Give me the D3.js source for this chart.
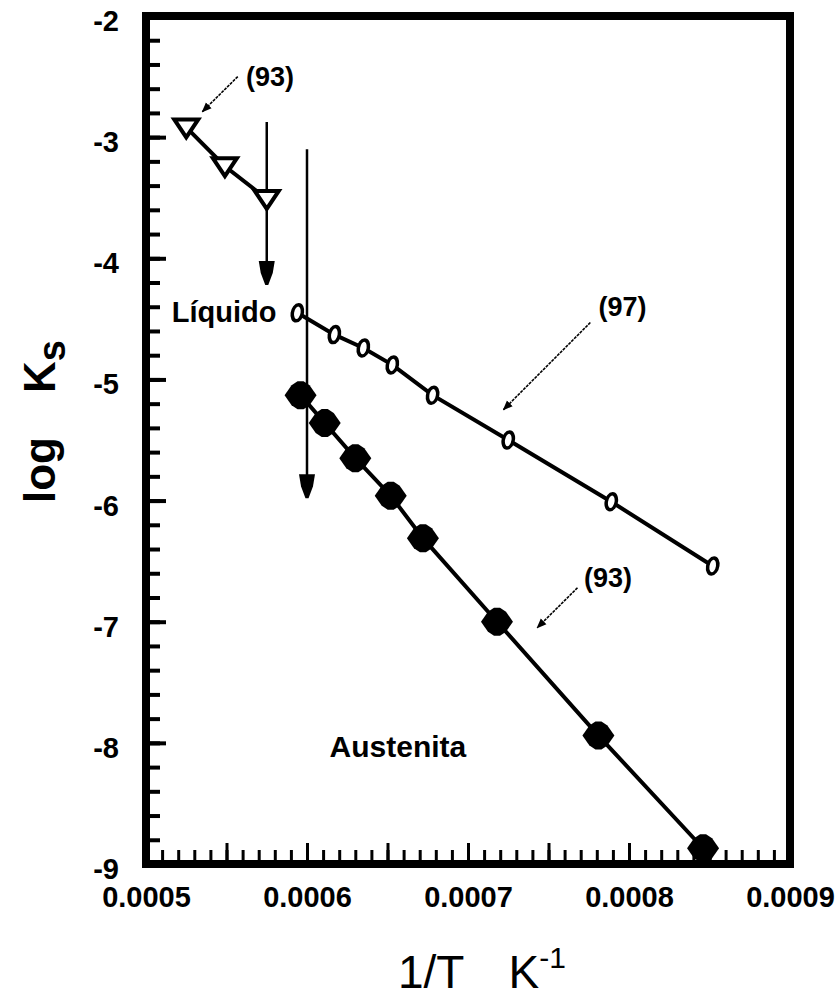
<!DOCTYPE html>
<html>
<head>
<meta charset="utf-8">
<script src="https://cdn.jsdelivr.net/npm/d3@7"></script>
<style>
  html, body { margin: 0; padding: 0; background: #fff; }
  svg { display: block; }
  text { font-family: "Liberation Sans", Arial, sans-serif; fill: #000; }
</style>
</head>
<body>
<div id="chart"></div>
<script>
// ---------------- data ----------------
// Liquid, ref (93): open inverted triangles
const liqX = [0.000525, 0.000549, 0.000575];
const liqY = [-2.92, -3.24, -3.51];
// ref (97): open "0" markers
const s97X = [0.000594, 0.000617, 0.000635, 0.000653, 0.000678, 0.000725, 0.000789, 0.000852];
const s97Y = [-4.45, -4.63, -4.74, -4.88, -5.13, -5.50, -6.01, -6.54];
// Austenite, ref (93): filled diamonds
const ausX = [0.000596, 0.000611, 0.000630, 0.000652, 0.000672, 0.000718, 0.000781, 0.000846];
const ausY = [-5.13, -5.36, -5.65, -5.96, -6.31, -7.00, -7.94, -8.87];
// vertical "upper limit" arrows: [x, yStart, yEnd]
const vArrows = [[0.000575, -2.875, -4.22], [0.000600, -3.10, -5.98]];
// annotation labels: [text, x, y, anchor, size]
const labels = [
  ["(93)", 0.000577, -2.58, "middle", 27],
  ["(97)", 0.000796, -4.48, "middle", 27],
  ["(93)", 0.000787, -6.71, "middle", 27],
  ["Líquido", 0.000516, -4.53, "start", 29],
  ["Austenita", 0.000614, -8.12, "start", 30]
];
// thin pointer arrows: [x1, y1, x2, y2]
const pointers = [
  [0.000557, -2.50, 0.000535, -2.79],
  [0.000776, -4.53, 0.000722, -5.25],
  [0.000768, -6.72, 0.000743, -7.05]
];
// axes
const xTicks = [0.0005, 0.0006, 0.0007, 0.0008, 0.0009];
const xTickLabels = ["0.0005", "0.0006", "0.0007", "0.0008", "0.0009"];
const yTicks = [-2, -3, -4, -5, -6, -7, -8, -9];
const yTickLabels = ["-2", "-3", "-4", "-5", "-6", "-7", "-8", "-9"];

// ---------------- layout ----------------
const W = 835, H = 997;
const x = d3.scaleLinear().domain([0.0005, 0.0009]).range([146, 790]);
const y = d3.scaleLinear().domain([-2, -9]).range([16, 864]);

const svg = d3.select("#chart").append("svg").attr("width", W).attr("height", H);

const defs = svg.append("defs");
defs.append("marker").attr("id", "ptr").attr("viewBox", "0 0 10 10")
  .attr("refX", 9).attr("refY", 5).attr("markerWidth", 10).attr("markerHeight", 10)
  .attr("markerUnits", "userSpaceOnUse").attr("orient", "auto")
  .append("path").attr("d", "M0,1 L10,5 L0,9 Z").attr("fill", "#000");

// minor tick values
const xMinor = d3.range(0, 41).map(i => +(0.0005 + i * 0.00001).toFixed(6));
const xMid = xMinor.filter((d, i) => i % 5 === 0);
const yMinor = d3.range(0, 36).map(i => +(-2 - i * 0.2).toFixed(2));

// x ticks (pointing up, inside)
svg.append("g").attr("transform", `translate(0,${y(-9)})`)
  .call(d3.axisBottom(x).tickValues(xMinor).tickSize(-14).tickSizeOuter(0).tickFormat(""))
  .call(g => g.select(".domain").remove())
  .call(g => g.selectAll(".tick line").attr("stroke", "#000").attr("stroke-width", 3));
svg.append("g").attr("transform", `translate(0,${y(-9)})`)
  .call(d3.axisBottom(x).tickValues(xMid).tickSize(-21).tickSizeOuter(0).tickFormat(""))
  .call(g => g.select(".domain").remove())
  .call(g => g.selectAll(".tick line").attr("stroke", "#000").attr("stroke-width", 3));
// x labels
svg.append("g").attr("transform", `translate(0,${y(-9)})`)
  .call(d3.axisBottom(x).tickValues(xTicks).tickSize(0).tickPadding(0)
    .tickFormat((d, i) => xTickLabels[i]))
  .call(g => g.select(".domain").remove())
  .call(g => g.selectAll(".tick text")
    .attr("y", 43).attr("dy", null)
    .attr("font-size", 29).attr("font-weight", "bold")
    .attr("font-family", "'Liberation Sans', Arial, sans-serif"));

// y ticks (pointing right, inside)
svg.append("g").attr("transform", `translate(${x(0.0005)},0)`)
  .call(d3.axisLeft(y).tickValues(yMinor).tickSize(-14).tickSizeOuter(0).tickFormat(""))
  .call(g => g.select(".domain").remove())
  .call(g => g.selectAll(".tick line").attr("stroke", "#000").attr("stroke-width", 4));
svg.append("g").attr("transform", `translate(${x(0.0005)},0)`)
  .call(d3.axisLeft(y).tickValues(yTicks).tickSize(-20).tickSizeOuter(0).tickFormat(""))
  .call(g => g.select(".domain").remove())
  .call(g => g.selectAll(".tick line").attr("stroke", "#000").attr("stroke-width", 4));
svg.append("g").attr("transform", `translate(${x(0.0005)},0)`)
  .call(d3.axisLeft(y).tickValues(yTicks).tickSize(0).tickPadding(27)
    .tickFormat((d, i) => yTickLabels[i]))
  .call(g => g.select(".domain").remove())
  .call(g => g.selectAll(".tick text").attr("font-size", 29).attr("font-weight", "bold")
    .attr("font-family", "'Liberation Sans', Arial, sans-serif").attr("dy", "0.5em"));

// frame
const frame = svg.append("g").attr("stroke", "#000").attr("stroke-width", 8).attr("fill", "none");
frame.append("path").attr("stroke-linecap", "square")
  .attr("d", `M${x(0.0005)},${y(-9)} L${x(0.0005)},${y(-2)} L${x(0.0009)},${y(-2)} L${x(0.0009)},${y(-9)} Z`);

// vertical arrows
vArrows.forEach(a => {
  svg.append("line").attr("x1", x(a[0])).attr("x2", x(a[0]))
    .attr("y1", y(a[1])).attr("y2", y(a[2]) - 10)
    .attr("stroke", "#000").attr("stroke-width", 2.5);
  const cx = x(a[0]), ty = y(a[2]);
  svg.append("path")
    .attr("d", `M${cx - 8},${ty - 24} L${cx + 8},${ty - 24} L${cx + 6},${ty - 12} L${cx + 1.5},${ty} L${cx - 1.5},${ty} L${cx - 6},${ty - 12} Z`)
    .attr("fill", "#000");
});

// lines
const line = d3.line().x(d => x(d[0])).y(d => y(d[1]));
const liq = liqX.map((v, i) => [v, liqY[i]]);
const s97 = s97X.map((v, i) => [v, s97Y[i]]);
const aus = ausX.map((v, i) => [v, ausY[i]]);
[liq, s97, aus].forEach(s => {
  svg.append("path").datum(s).attr("d", line)
    .attr("fill", "none").attr("stroke", "#000").attr("stroke-width", 4);
});

// markers: austenite filled blobs
svg.append("g").selectAll("path").data(aus).join("path")
  .attr("transform", d => `translate(${x(d[0])},${y(d[1])})`)
  .attr("d", "M-16,0 L-9,-10 L-3,-14 L3,-14 L9,-10 L16,0 L9,10 L3,14 L-3,14 L-9,10 Z")
  .attr("fill", "#000");

// markers: (97) open zeros
svg.append("g").selectAll("ellipse").data(s97).join("ellipse")
  .attr("transform", d => `translate(${x(d[0])},${y(d[1])}) skewX(-8)`)
  .attr("rx", 5).attr("ry", 8)
  .attr("fill", "#fff").attr("stroke", "#000").attr("stroke-width", 3.5);

// markers: liquid inverted triangles
svg.append("g").selectAll("path").data(liq).join("path")
  .attr("transform", d => `translate(${x(d[0])},${y(d[1])})`)
  .attr("d", "M-12,-8 L12,-8 L0,10 Z")
  .attr("fill", "#fff").attr("stroke", "#000").attr("stroke-width", 4).attr("stroke-linejoin", "miter");

// pointers
svg.append("g").selectAll("line").data(pointers).join("line")
  .attr("x1", d => x(d[0])).attr("y1", d => y(d[1]))
  .attr("x2", d => x(d[2])).attr("y2", d => y(d[3]))
  .attr("stroke", "#000").attr("stroke-width", 1.6).attr("stroke-dasharray", "3,1")
  .attr("marker-end", "url(#ptr)");

// labels
svg.append("g").selectAll("text").data(labels).join("text")
  .attr("x", d => x(d[1])).attr("y", d => y(d[2]))
  .attr("text-anchor", d => d[3]).attr("font-size", d => d[4])
  .attr("font-weight", "bold").text(d => d[0]);

// axis titles
const xt = svg.append("text").attr("x", 398).attr("y", 988).attr("font-size", 46);
xt.append("tspan").text("1/T");
xt.append("tspan").attr("dx", 44).text("K");
xt.append("tspan").attr("dy", -20).attr("font-size", 30).text("-1");

const yt = svg.append("text").attr("transform", "translate(55,503) rotate(-90)")
  .attr("font-size", 44).attr("font-weight", "bold");
yt.append("tspan").text("log");
yt.append("tspan").attr("dx", 44).text("K");
yt.append("tspan").attr("dy", 10).attr("font-size", 38).text("s");
</script>
</body>
</html>
